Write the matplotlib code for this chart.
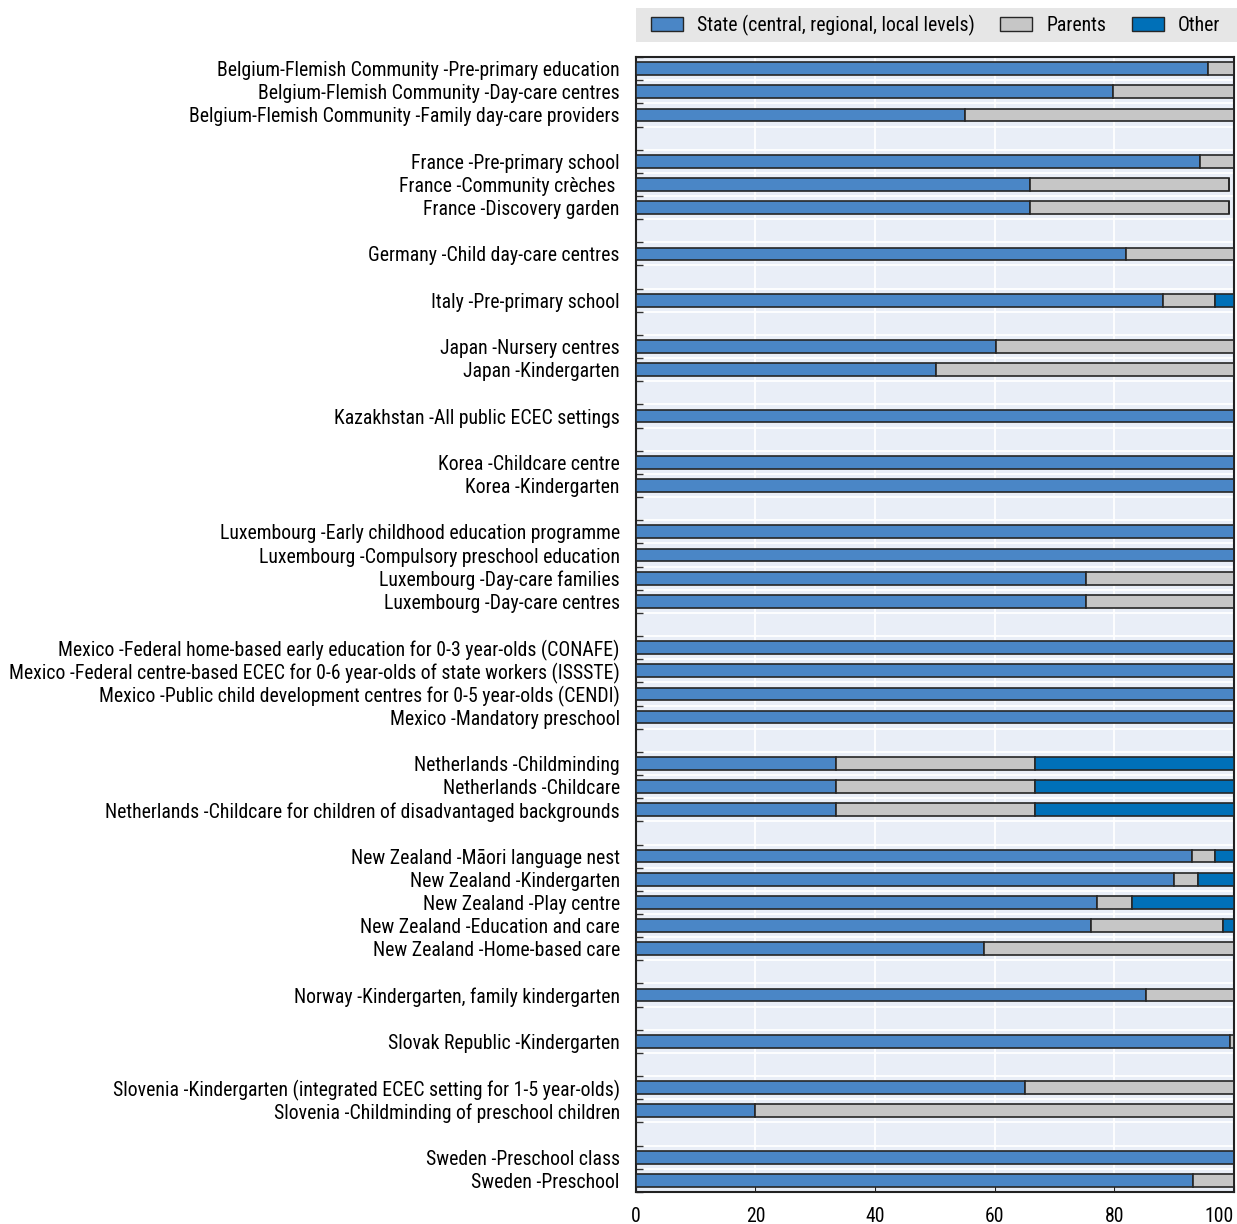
import numpy as np
import matplotlib.pyplot as plt
from matplotlib.patches import Patch, Rectangle
from matplotlib.ticker import FixedLocator

plt.rcParams['font.family'] = ['Roboto Condensed', 'DejaVu Sans']

# rows top to bottom, None marks the blank spacer between countries
labels = [
    "Belgium-Flemish Community -Pre-primary education",
    "Belgium-Flemish Community -Day-care centres",
    "Belgium-Flemish Community -Family day-care providers",
    None,
    "France -Pre-primary school",
    "France -Community crèches ",
    "France -Discovery garden",
    None,
    "Germany -Child day-care centres",
    None,
    "Italy -Pre-primary school",
    None,
    "Japan -Nursery centres",
    "Japan -Kindergarten",
    None,
    "Kazakhstan -All public ECEC settings",
    None,
    "Korea -Childcare centre",
    "Korea -Kindergarten",
    None,
    "Luxembourg -Early childhood education programme",
    "Luxembourg -Compulsory preschool education",
    "Luxembourg -Day-care families",
    "Luxembourg -Day-care centres",
    None,
    "Mexico -Federal home-based early education for 0-3 year-olds (CONAFE)",
    "Mexico -Federal centre-based ECEC for 0-6 year-olds of state workers (ISSSTE)",
    "Mexico -Public child development centres for 0-5 year-olds (CENDI)",
    "Mexico -Mandatory preschool",
    None,
    "Netherlands -Childminding",
    "Netherlands -Childcare",
    "Netherlands -Childcare for children of disadvantaged backgrounds",
    None,
    "New Zealand -Māori language nest",
    "New Zealand -Kindergarten",
    "New Zealand -Play centre",
    "New Zealand -Education and care",
    "New Zealand -Home-based care",
    None,
    "Norway -Kindergarten, family kindergarten",
    None,
    "Slovak Republic -Kindergarten",
    None,
    "Slovenia -Kindergarten (integrated ECEC setting for 1-5 year-olds)",
    "Slovenia -Childminding of preschool children",
    None,
    "Sweden -Preschool class",
    "Sweden -Preschool",
]

state = [95.6, 79.7, 55.0, None,
         94.3, 65.9, 65.9, None,
         82.0, None,
         88.2, None,
         60.2, 50.2, None,
         100, None,
         100, 100, None,
         100, 100, 75.3, 75.3, None,
         100, 100, 100, 100, None,
         33.4, 33.4, 33.4, None,
         93.0, 90.0, 77.1, 76.1, 58.2, None,
         85.3, None,
         99.3, None,
         65.0, 20.0, None,
         100, 93.1]

parents = [4.4, 20.3, 45.0, None,
           5.7, 33.3, 33.3, None,
           18.0, None,
           8.6, None,
           39.8, 49.8, None,
           0, None,
           0, 0, None,
           0, 0, 24.7, 24.7, None,
           0, 0, 0, 0, None,
           33.3, 33.3, 33.3, None,
           3.8, 4.0, 5.8, 22.1, 41.8, None,
           14.7, None,
           0.7, None,
           35.0, 80.0, None,
           0, 6.9]

other = [0, 0, 0, None,
         0, 0, 0, None,
         0, None,
         3.2, None,
         0, 0, None,
         0, None,
         0, 0, None,
         0, 0, 0, 0, None,
         0, 0, 0, 0, None,
         33.3, 33.3, 33.3, None,
         3.2, 6.0, 17.1, 1.8, 0, None,
         0, None,
         0, None,
         0, 0, None,
         0, 0]

c_state = '#4a86c6'
c_parents = '#c6c6c6'
c_other = '#0070b8'
edge = '#262626'
fs = 14.2

fig = plt.figure(figsize=(12.37, 12.24), dpi=100)
ax = fig.add_axes([0.514, 0.0262, 0.4836, 0.9272])
ax.set_facecolor('#e9eef7')

n = len(labels)
y = np.arange(n)
idx = [i for i in range(n) if labels[i] is not None]
s = np.array([state[i] for i in idx])
p = np.array([parents[i] for i in idx])
o = np.array([other[i] for i in idx])
yy = y[idx]

h = 0.55
ax.barh(yy, s, height=h, color=c_state, edgecolor=edge, linewidth=1.2, zorder=3)
ax.barh(yy, p, left=s, height=h, color=c_parents, edgecolor=edge, linewidth=1.2, zorder=3)
ax.barh(yy, o, left=s + p, height=h, color=c_other, edgecolor=edge, linewidth=1.2, zorder=3)

ax.set_ylim(n - 0.5, -0.5)
ax.set_xlim(0, 100)
ax.set_yticks(yy)
ax.set_yticklabels([labels[i] for i in idx], fontsize=fs)
ax.yaxis.set_minor_locator(FixedLocator(np.arange(n + 1) - 0.5))
ax.tick_params(axis='y', which='major', length=0, pad=11.5)
ax.tick_params(axis='y', which='minor', direction='in', length=5, width=1, color='#333333')
ax.set_xticks([0, 20, 40, 60, 80, 100])
ax.tick_params(axis='x', direction='in', length=5, labelsize=fs, pad=11, color='#222222')
ax.get_xticklabels()[-1].set_horizontalalignment('right')

ax.grid(True, axis='x', which='major', color='white', linewidth=1.3, zorder=0)
ax.grid(True, axis='y', which='minor', color='white', linewidth=1.3, zorder=0)
ax.grid(False, axis='y', which='major')
ax.set_axisbelow(True)
for sp in ax.spines.values():
    sp.set_color('#222222')
    sp.set_linewidth(1.5)

# legend strip above the plot
fig.patches.append(Rectangle((0.514, 0.9657), 0.486, 0.0278, transform=fig.transFigure,
                             facecolor='#e6e6e6', edgecolor='none', zorder=0))
handles = [Patch(facecolor=c_state, edgecolor=edge, label='State (central, regional, local levels)'),
           Patch(facecolor=c_parents, edgecolor=edge, label='Parents'),
           Patch(facecolor=c_other, edgecolor=edge, label='Other')]
fig.legend(handles=handles, ncol=3, loc='center', bbox_to_anchor=(0.7563, 0.9796),
           fontsize=fs, frameon=False, handlelength=1.62, handleheight=0.71,
           handletextpad=0.71, columnspacing=1.32)

fig.savefig('out.png', dpi=100)
